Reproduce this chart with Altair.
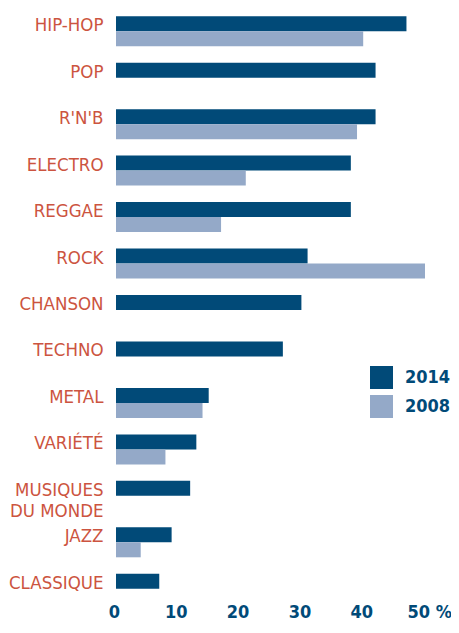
import altair as alt
import pandas as pd

genres = ["HIP-HOP", "POP", "R'N'B", "ELECTRO", "REGGAE", "ROCK", "CHANSON",
          "TECHNO", "METAL", "VARIÉTÉ", "MUSIQUES DU MONDE", "JAZZ", "CLASSIQUE"]
v2014 = [47, 42, 42, 38, 38, 31, 30, 27, 15, 13, 12, 9, 7]
v2008 = [40, None, 39, 21, 17, 50, None, None, 14, 8, None, 4, None]
years = ["2014", "2008"]
ticks = [0, 10, 20, 30, 40, 50]

rows = []
for g, a, b in zip(genres, v2014, v2008):
    rows.append({"genre": g, "year": "2014", "value": a})
    if b is not None:
        rows.append({"genre": g, "year": "2008", "value": b})
df = pd.DataFrame(rows)

DARK = "#014a78"
LIGHT = "#94a9c8"
RED = "#cc5440"
FONT = "DejaVu Sans Condensed, Liberation Sans Narrow, DejaVu Sans, sans-serif"

chart = alt.Chart(df).mark_bar().encode(
    x=alt.X("value:Q",
            scale=alt.Scale(domain=[0, 50], nice=False),
            axis=alt.Axis(values=ticks, title=None, domain=False, ticks=False, grid=False,
                          labelExpr="datum.value == 50 ? '50 %' : datum.label",
                          labelAlign={"condition": {"test": "datum.value == 50", "value": "left"}, "value": "center"},
                          labelOffset={"condition": {"test": "datum.value == 50", "value": -18}, "value": -2},
                          labelFont=FONT, labelFontSize=18, labelFontWeight="bold",
                          labelColor=DARK, offset=-9, labelPadding=0)),
    y=alt.Y("genre:N", sort=genres,
            scale=alt.Scale(paddingInner=0, paddingOuter=0),
            axis=alt.Axis(title=None, domain=False, ticks=False,
                          labelExpr="datum.label == 'MUSIQUES DU MONDE' ? ['MUSIQUES', 'DU MONDE'] : datum.label",
                          labelFont=FONT, labelFontSize=18.5, labelColor=RED,
                          labelPadding=13, labelBaseline="top", labelOffset=-15,
                          labelLineHeight=21, labelLimit=200)),
    yOffset=alt.YOffset("year:N", sort=years,
                        scale=alt.Scale(domain=years, paddingInner=0, paddingOuter=0.549)),
    color=alt.Color("year:N",
                    scale=alt.Scale(domain=years, range=[DARK, LIGHT]),
                    legend=alt.Legend(title=None, orient="none", legendX=254, legendY=358,
                                      symbolType="square", symbolSize=529, symbolStrokeWidth=0,
                                      symbolOpacity=1, labelFont=FONT, labelFontSize=18,
                                      labelFontWeight="bold", labelColor=DARK, labelOffset=12,
                                      rowPadding=6, padding=0)),
).properties(
    width=309,
    height=604,
    autosize=alt.AutoSizeParams(type="none"),
    padding={"left": 108, "top": 0, "right": 26, "bottom": 9},
).configure_view(stroke=None)

chart.save("out.html", embed_options={"renderer": "svg", "actions": False})
